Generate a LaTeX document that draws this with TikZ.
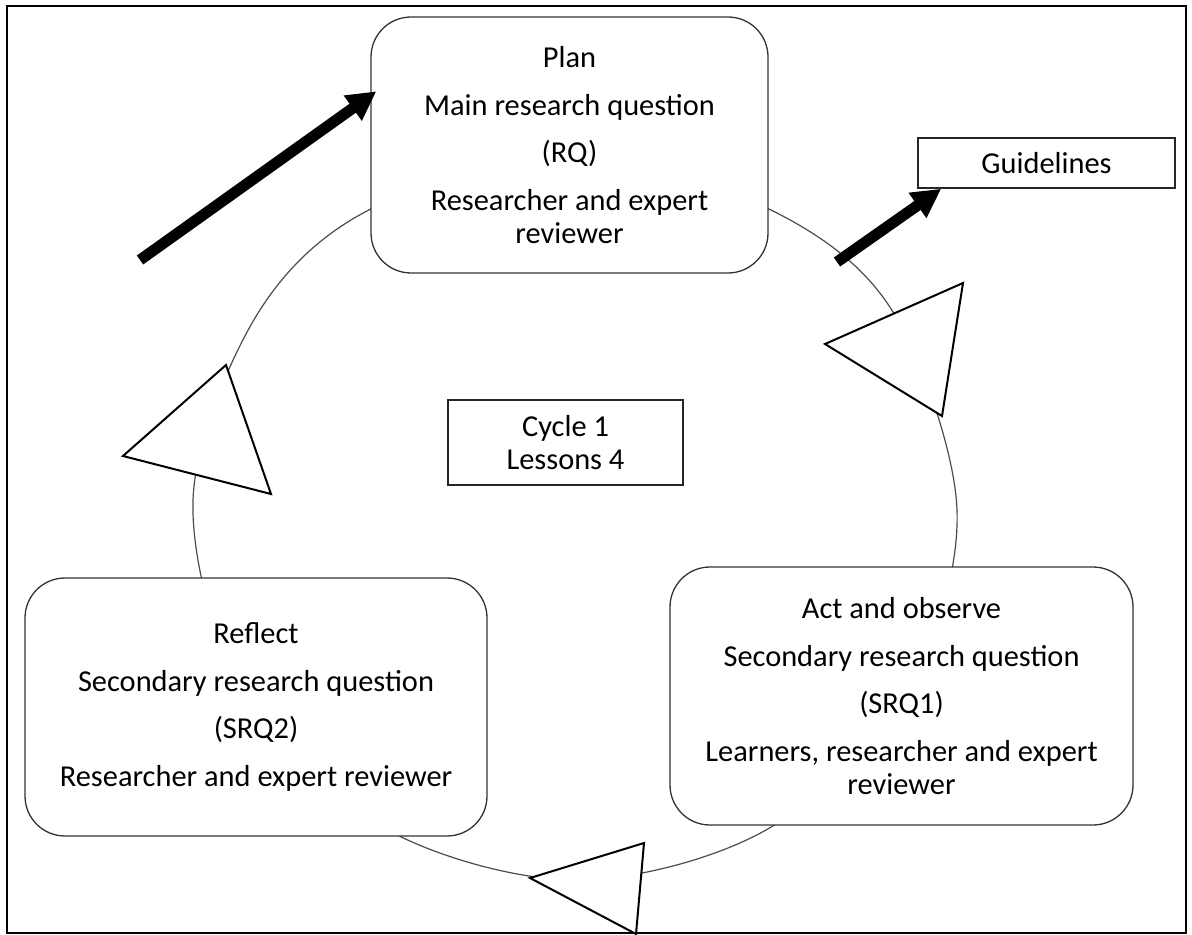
\documentclass[tikz,border=0pt]{standalone}
\usepackage{fontspec}
\setmainfont{Carlito}
\usetikzlibrary{arrows.meta}
\begin{document}
\begin{tikzpicture}[x=0.5pt,y=-0.5pt,
  txt/.style={font=\fontsize{15.2pt}{16.6pt}\selectfont, align=center, inner sep=0pt},
  stage/.style={txt, draw=black!80, line width=0.65pt, fill=white, rounded corners=20pt},
  plainbox/.style={txt, draw=black!85, line width=0.8pt, fill=white},
  ring/.style={draw=black!70, line width=0.6pt},
  pointer/.style={fill=white, draw=black, line width=1pt, line join=miter},
  fatarrow/.style={line width=5.5pt, -{Triangle[length=14.5pt,width=14.5pt]}},
]
\useasboundingbox (0,0) rectangle (1192,935);

% outer frame
\draw[line width=1pt] (6.5,6.5) rectangle (1186,933);

% the cycle ring
\draw[ring] plot[smooth cycle, tension=0.55] coordinates {
  (957,510) (907,692) (766,830) (575,880) (384,828) (243,692)
  (193,500) (255,318) (365,212) (570,150) (773,211) (893,312)};

% direction markers on the ring
\draw[pointer] (963,283) -- (825,344) -- (942,416) -- cycle;
\draw[pointer] (226,365) -- (123,456) -- (271,494) -- cycle;
\draw[pointer] (530,878) -- (644,843) -- (636,934) -- cycle;

% stages
\node[stage, minimum width=198.5pt, minimum height=128pt] (plan) at (569.5,145)
  {Plan\\[7.2pt] Main research question\\[7.2pt] (RQ)\\[7.2pt] Researcher and expert\\ reviewer};
\node[stage, minimum width=231.5pt, minimum height=129pt] (act) at (901.5,696)
  {Act and observe\\[7.2pt] Secondary research question\\[7.2pt] (SRQ1)\\[7.2pt] Learners, researcher and expert\\ reviewer};
\node[stage, minimum width=231pt, minimum height=129pt] (reflect) at (256,707)
  {Reflect\\[7.2pt] Secondary research question\\[7.2pt] (SRQ2)\\[7.2pt] Researcher and expert reviewer};

\node[plainbox, minimum width=117.5pt, minimum height=42.5pt] (cycle) at (565.5,442.5)
  {Cycle 1\\ Lessons 4};
\node[plainbox, minimum width=128.5pt, minimum height=25pt] (guide) at (1046.5,163)
  {Guidelines};

% entry and exit arrows
\coordinate (rqtail) at (140,260);
\coordinate (gdtail) at (837,262);
\draw[fatarrow] (rqtail) -- ([shift={(6,75)}]plan.north west);
\draw[fatarrow] (gdtail) -- ([shift={(24,0)}]guide.south west);
\end{tikzpicture}
\end{document}
